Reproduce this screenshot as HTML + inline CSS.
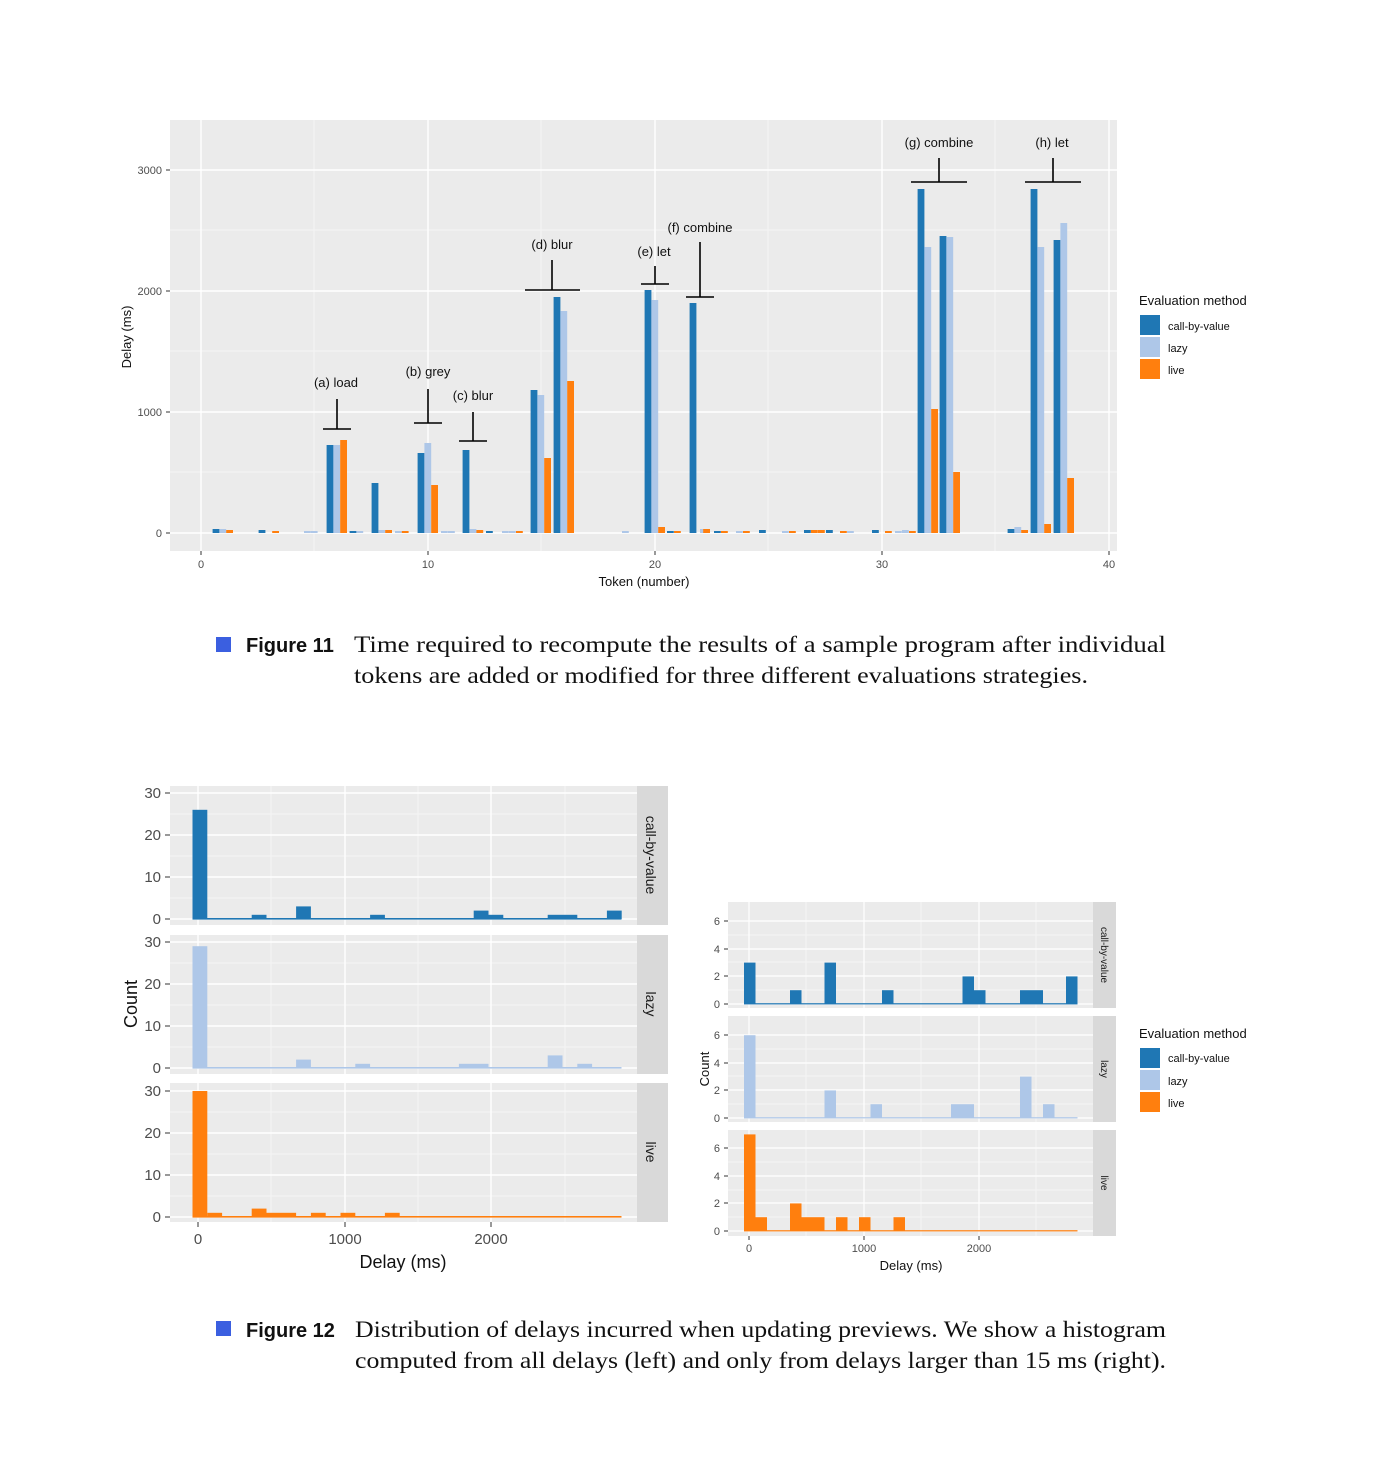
<!DOCTYPE html>
<html><head><meta charset="utf-8"><style>
html,body{margin:0;padding:0;background:#fff;}
svg{display:block;}
.t{font-family:"Liberation Sans",sans-serif;}
.tk{font-family:"Liberation Sans",sans-serif;fill:#4d4d4d;}
.cap{font-family:"Liberation Serif",serif;font-size:23px;fill:#111;}
.fig{font-family:"Liberation Sans",sans-serif;font-weight:bold;font-size:20px;fill:#111;}
</style></head><body>
<svg width="1378" height="1481" viewBox="0 0 1378 1481" xmlns="http://www.w3.org/2000/svg">
<rect width="1378" height="1481" fill="#fff"/>
<!-- ===== Figure 11 ===== -->
<rect x="170" y="120" width="947" height="431" fill="#ebebeb"/>
<g stroke="#f7f7f7" stroke-width="0.8">
<line x1="170" x2="1117" y1="472" y2="472"/><line x1="170" x2="1117" y1="351" y2="351"/><line x1="170" x2="1117" y1="230" y2="230"/>
<line x1="314" x2="314" y1="120" y2="551"/><line x1="541" x2="541" y1="120" y2="551"/><line x1="768" x2="768" y1="120" y2="551"/><line x1="995" x2="995" y1="120" y2="551"/>
</g>
<g stroke="#fff" stroke-width="1.4">
<line x1="170" x2="1117" y1="533" y2="533"/><line x1="170" x2="1117" y1="412" y2="412"/><line x1="170" x2="1117" y1="291" y2="291"/><line x1="170" x2="1117" y1="170" y2="170"/>
<line x1="201" x2="201" y1="120" y2="551"/><line x1="428" x2="428" y1="120" y2="551"/><line x1="655" x2="655" y1="120" y2="551"/><line x1="882" x2="882" y1="120" y2="551"/><line x1="1109" x2="1109" y1="120" y2="551"/>
</g>
<g stroke="#333" stroke-width="1">
<line x1="166" x2="170" y1="533" y2="533"/><line x1="166" x2="170" y1="412" y2="412"/><line x1="166" x2="170" y1="291" y2="291"/><line x1="166" x2="170" y1="170" y2="170"/>
<line x1="201" x2="201" y1="551" y2="555"/><line x1="428" x2="428" y1="551" y2="555"/><line x1="655" x2="655" y1="551" y2="555"/><line x1="882" x2="882" y1="551" y2="555"/><line x1="1109" x2="1109" y1="551" y2="555"/>
</g>
<g class="tk" font-size="11" text-anchor="end">
<text x="162" y="537">0</text><text x="162" y="416">1000</text><text x="162" y="295">2000</text><text x="162" y="174">3000</text>
</g>
<g class="tk" font-size="11" text-anchor="middle">
<text x="201" y="568">0</text><text x="428" y="568">10</text><text x="655" y="568">20</text><text x="882" y="568">30</text><text x="1109" y="568">40</text>
</g>
<text class="t" x="644" y="586" font-size="13" text-anchor="middle" fill="#111">Token (number)</text>
<text class="t" transform="translate(131,337) rotate(-90)" font-size="13" text-anchor="middle" fill="#111">Delay (ms)</text>
<!-- small stubs -->
<g>
<rect x="212.6" y="529" width="6.8" height="4" fill="#1f77b4"/><rect x="219.4" y="529" width="6.8" height="4" fill="#aec7e8"/><rect x="226.2" y="530" width="6.8" height="3" fill="#ff7f0e"/>
<rect x="258.6" y="530" width="6.8" height="3" fill="#1f77b4"/><rect x="272.2" y="531" width="6.8" height="2" fill="#ff7f0e"/>
<rect x="304" y="531" width="6.8" height="2" fill="#aec7e8"/><rect x="310.8" y="531" width="6.8" height="2" fill="#aec7e8"/>
<rect x="349.6" y="531" width="6.8" height="2" fill="#1f77b4"/><rect x="356.4" y="531" width="6.8" height="2" fill="#aec7e8"/>
<rect x="378.4" y="530" width="6.8" height="3" fill="#aec7e8"/><rect x="385.2" y="530" width="6.8" height="3" fill="#ff7f0e"/>
<rect x="395" y="531" width="6.8" height="2" fill="#aec7e8"/><rect x="401.8" y="531" width="6.8" height="2" fill="#ff7f0e"/>
<rect x="441" y="531" width="6.8" height="2" fill="#aec7e8"/><rect x="448" y="531" width="6.8" height="2" fill="#aec7e8"/>
<rect x="469.6" y="529" width="6.8" height="4" fill="#aec7e8"/><rect x="476.4" y="530" width="6.8" height="3" fill="#ff7f0e"/><rect x="486" y="531" width="6.8" height="2" fill="#1f77b4"/>
<rect x="502" y="531" width="6.8" height="2" fill="#aec7e8"/><rect x="509" y="531" width="6.8" height="2" fill="#aec7e8"/><rect x="516" y="531" width="6.8" height="2" fill="#ff7f0e"/>
<rect x="622" y="531" width="6.8" height="2" fill="#aec7e8"/>
<rect x="667" y="531" width="6.8" height="2" fill="#1f77b4"/><rect x="674" y="531" width="6.8" height="2" fill="#ff7f0e"/>
<rect x="700" y="529" width="6.8" height="4" fill="#aec7e8"/>
<rect x="714" y="531" width="6.8" height="2" fill="#1f77b4"/><rect x="721" y="531" width="6.8" height="2" fill="#ff7f0e"/><rect x="736" y="531" width="6.8" height="2" fill="#aec7e8"/><rect x="743" y="531" width="6.8" height="2" fill="#ff7f0e"/>
<rect x="759" y="530" width="6.8" height="3" fill="#1f77b4"/><rect x="782" y="531" width="6.8" height="2" fill="#aec7e8"/><rect x="789" y="531" width="6.8" height="2" fill="#ff7f0e"/>
<rect x="804" y="530" width="6.8" height="3" fill="#1f77b4"/><rect x="811" y="530" width="6.8" height="3" fill="#ff7f0e"/><rect x="818" y="530" width="6.8" height="3" fill="#ff7f0e"/><rect x="826" y="530" width="6.8" height="3" fill="#1f77b4"/>
<rect x="840" y="531" width="6.8" height="2" fill="#ff7f0e"/><rect x="847" y="531" width="6.8" height="2" fill="#aec7e8"/>
<rect x="872" y="530" width="6.8" height="3" fill="#1f77b4"/><rect x="885" y="531" width="6.8" height="2" fill="#ff7f0e"/><rect x="895" y="531" width="6.8" height="2" fill="#aec7e8"/><rect x="902" y="530" width="6.8" height="3" fill="#aec7e8"/><rect x="909" y="531" width="6.8" height="2" fill="#ff7f0e"/>
<rect x="1007.6" y="529" width="6.8" height="4" fill="#1f77b4"/><rect x="1014.4" y="527" width="6.8" height="6" fill="#aec7e8"/><rect x="1021.2" y="530" width="6.8" height="3" fill="#ff7f0e"/>
</g>
<!-- main bars -->
<g>
<rect x="326.6" y="445" width="6.8" height="88" fill="#1f77b4"/><rect x="333.4" y="445" width="6.8" height="88" fill="#aec7e8"/><rect x="340.2" y="440" width="6.8" height="93" fill="#ff7f0e"/>
<rect x="371.6" y="483" width="6.8" height="50" fill="#1f77b4"/>
<rect x="417.6" y="453" width="6.8" height="80" fill="#1f77b4"/><rect x="424.4" y="443" width="6.8" height="90" fill="#aec7e8"/><rect x="431.2" y="485" width="6.8" height="48" fill="#ff7f0e"/>
<rect x="462.6" y="450" width="6.8" height="83" fill="#1f77b4"/>
<rect x="530.6" y="390" width="6.8" height="143" fill="#1f77b4"/><rect x="537.4" y="395" width="6.8" height="138" fill="#aec7e8"/><rect x="544.2" y="458" width="6.8" height="75" fill="#ff7f0e"/>
<rect x="553.6" y="297" width="6.8" height="236" fill="#1f77b4"/><rect x="560.4" y="311" width="6.8" height="222" fill="#aec7e8"/><rect x="567.2" y="381" width="6.8" height="152" fill="#ff7f0e"/>
<rect x="644.6" y="290" width="6.8" height="243" fill="#1f77b4"/><rect x="651.4" y="300" width="6.8" height="233" fill="#aec7e8"/><rect x="658.2" y="527" width="6.8" height="6" fill="#ff7f0e"/>
<rect x="689.6" y="303" width="6.8" height="230" fill="#1f77b4"/><rect x="703.2" y="529" width="6.8" height="4" fill="#ff7f0e"/>
<rect x="917.6" y="189" width="6.8" height="344" fill="#1f77b4"/><rect x="924.4" y="247" width="6.8" height="286" fill="#aec7e8"/><rect x="931.2" y="409" width="6.8" height="124" fill="#ff7f0e"/>
<rect x="939.6" y="236" width="6.8" height="297" fill="#1f77b4"/><rect x="946.4" y="237" width="6.8" height="296" fill="#aec7e8"/><rect x="953.2" y="472" width="6.8" height="61" fill="#ff7f0e"/>
<rect x="1030.6" y="189" width="6.8" height="344" fill="#1f77b4"/><rect x="1037.4" y="247" width="6.8" height="286" fill="#aec7e8"/><rect x="1044.2" y="524" width="6.8" height="9" fill="#ff7f0e"/>
<rect x="1053.6" y="240" width="6.8" height="293" fill="#1f77b4"/><rect x="1060.4" y="223" width="6.8" height="310" fill="#aec7e8"/><rect x="1067.2" y="478" width="6.8" height="55" fill="#ff7f0e"/>
</g>
<!-- annotations -->
<g stroke="#000" stroke-width="1.6">
<line x1="323" x2="351" y1="429" y2="429"/><line x1="337" x2="337" y1="399" y2="429"/>
<line x1="414" x2="442" y1="423" y2="423"/><line x1="428" x2="428" y1="389" y2="423"/>
<line x1="459" x2="487" y1="441" y2="441"/><line x1="473" x2="473" y1="412" y2="441"/>
<line x1="525" x2="580" y1="290" y2="290"/><line x1="552" x2="552" y1="260" y2="290"/>
<line x1="641" x2="669" y1="284" y2="284"/><line x1="655" x2="655" y1="266" y2="284"/>
<line x1="686" x2="714" y1="297" y2="297"/><line x1="700" x2="700" y1="242" y2="297"/>
<line x1="911" x2="967" y1="182" y2="182"/><line x1="939" x2="939" y1="158" y2="182"/>
<line x1="1025" x2="1081" y1="182" y2="182"/><line x1="1053" x2="1053" y1="158" y2="182"/>
</g>
<g class="t" font-size="13" fill="#111" text-anchor="middle">
<text x="336" y="387">(a) load</text><text x="428" y="376">(b) grey</text><text x="473" y="400">(c) blur</text>
<text x="552" y="249">(d) blur</text><text x="654" y="256">(e) let</text><text x="700" y="232">(f) combine</text>
<text x="939" y="147">(g) combine</text><text x="1052" y="147">(h) let</text>
</g>
<text class="t" x="1139" y="305" font-size="13" fill="#111">Evaluation method</text>
<rect x="1140" y="315" width="20" height="20" fill="#1f77b4"/><rect x="1140" y="337" width="20" height="20" fill="#aec7e8"/><rect x="1140" y="359" width="20" height="20" fill="#ff7f0e"/>
<g class="t" font-size="11" fill="#111"><text x="1168" y="330">call-by-value</text><text x="1168" y="352">lazy</text><text x="1168" y="374">live</text></g>
<!-- caption 11 -->
<rect x="216" y="637" width="15" height="15" fill="#3b5fe0"/>
<text class="fig" x="246" y="652">Figure 11</text>
<text class="cap" x="354" y="652" textLength="812" lengthAdjust="spacingAndGlyphs">Time required to recompute the results of a sample program after individual</text>
<text class="cap" x="354" y="683" textLength="734" lengthAdjust="spacingAndGlyphs">tokens are added or modified for three different evaluations strategies.</text>

<!-- ===== Figure 12 left ===== -->
<g>
<rect x="170" y="786" width="467" height="139" fill="#ebebeb"/>
<rect x="170" y="935" width="467" height="139" fill="#ebebeb"/>
<rect x="170" y="1083" width="467" height="139" fill="#ebebeb"/>
<rect x="637" y="786" width="31" height="139" fill="#d9d9d9"/>
<rect x="637" y="935" width="31" height="139" fill="#d9d9d9"/>
<rect x="637" y="1083" width="31" height="139" fill="#d9d9d9"/>
</g>
<g stroke="#f7f7f7" stroke-width="0.8">
<line x1="170" x2="637" y1="898" y2="898"/><line x1="170" x2="637" y1="856" y2="856"/><line x1="170" x2="637" y1="814" y2="814"/>
<line x1="170" x2="637" y1="1047" y2="1047"/><line x1="170" x2="637" y1="1005" y2="1005"/><line x1="170" x2="637" y1="963" y2="963"/>
<line x1="170" x2="637" y1="1196" y2="1196"/><line x1="170" x2="637" y1="1154" y2="1154"/><line x1="170" x2="637" y1="1112" y2="1112"/>
<line x1="271" x2="271" y1="786" y2="925"/><line x1="418" x2="418" y1="786" y2="925"/><line x1="565" x2="565" y1="786" y2="925"/>
<line x1="271" x2="271" y1="935" y2="1074"/><line x1="418" x2="418" y1="935" y2="1074"/><line x1="565" x2="565" y1="935" y2="1074"/>
<line x1="271" x2="271" y1="1083" y2="1222"/><line x1="418" x2="418" y1="1083" y2="1222"/><line x1="565" x2="565" y1="1083" y2="1222"/>
</g>
<g stroke="#fff" stroke-width="1.4">
<line x1="170" x2="637" y1="919" y2="919"/><line x1="170" x2="637" y1="877" y2="877"/><line x1="170" x2="637" y1="835" y2="835"/><line x1="170" x2="637" y1="793" y2="793"/>
<line x1="170" x2="637" y1="1068" y2="1068"/><line x1="170" x2="637" y1="1026" y2="1026"/><line x1="170" x2="637" y1="984" y2="984"/><line x1="170" x2="637" y1="942" y2="942"/>
<line x1="170" x2="637" y1="1217" y2="1217"/><line x1="170" x2="637" y1="1175" y2="1175"/><line x1="170" x2="637" y1="1133" y2="1133"/><line x1="170" x2="637" y1="1091" y2="1091"/>
<line x1="198" x2="198" y1="786" y2="925"/><line x1="345" x2="345" y1="786" y2="925"/><line x1="491" x2="491" y1="786" y2="925"/>
<line x1="198" x2="198" y1="935" y2="1074"/><line x1="345" x2="345" y1="935" y2="1074"/><line x1="491" x2="491" y1="935" y2="1074"/>
<line x1="198" x2="198" y1="1083" y2="1222"/><line x1="345" x2="345" y1="1083" y2="1222"/><line x1="491" x2="491" y1="1083" y2="1222"/>
</g>
<g fill="#1f77b4">
<rect x="192.5" y="809.8" width="14.8" height="109.2"/><rect x="251.7" y="914.8" width="14.8" height="4.2"/><rect x="296.1" y="906.4" width="14.8" height="12.6"/><rect x="370.1" y="914.8" width="14.8" height="4.2"/><rect x="473.7" y="910.6" width="14.8" height="8.4"/><rect x="488.5" y="914.8" width="14.8" height="4.2"/><rect x="547.7" y="914.8" width="29.6" height="4.2"/><rect x="606.9" y="910.6" width="14.8" height="8.4"/>
<rect x="192.5" y="918" width="429" height="1.6"/>
</g>
<g fill="#aec7e8">
<rect x="192.5" y="946.2" width="14.8" height="121.8"/><rect x="296.1" y="1059.6" width="14.8" height="8.4"/><rect x="355.3" y="1063.8" width="14.8" height="4.2"/><rect x="458.9" y="1063.8" width="29.6" height="4.2"/><rect x="547.7" y="1055.4" width="14.8" height="12.6"/><rect x="577.3" y="1063.8" width="14.8" height="4.2"/>
<rect x="192.5" y="1067" width="429" height="1.6"/>
</g>
<g fill="#ff7f0e">
<rect x="192.5" y="1091" width="14.8" height="126"/><rect x="207.3" y="1212.8" width="14.8" height="4.2"/><rect x="251.7" y="1208.6" width="14.8" height="8.4"/><rect x="266.5" y="1212.8" width="29.6" height="4.2"/><rect x="310.9" y="1212.8" width="14.8" height="4.2"/><rect x="340.5" y="1212.8" width="14.8" height="4.2"/><rect x="384.9" y="1212.8" width="14.8" height="4.2"/>
<rect x="192.5" y="1216" width="429" height="1.6"/>
</g>
<g stroke="#333" stroke-width="1">
<line x1="165" x2="170" y1="919" y2="919"/><line x1="165" x2="170" y1="877" y2="877"/><line x1="165" x2="170" y1="835" y2="835"/><line x1="165" x2="170" y1="793" y2="793"/>
<line x1="165" x2="170" y1="1068" y2="1068"/><line x1="165" x2="170" y1="1026" y2="1026"/><line x1="165" x2="170" y1="984" y2="984"/><line x1="165" x2="170" y1="942" y2="942"/>
<line x1="165" x2="170" y1="1217" y2="1217"/><line x1="165" x2="170" y1="1175" y2="1175"/><line x1="165" x2="170" y1="1133" y2="1133"/><line x1="165" x2="170" y1="1091" y2="1091"/>
<line x1="198" x2="198" y1="1222" y2="1227"/><line x1="345" x2="345" y1="1222" y2="1227"/><line x1="491" x2="491" y1="1222" y2="1227"/>
</g>
<g class="tk" font-size="15" text-anchor="end">
<text x="161" y="924">0</text><text x="161" y="882">10</text><text x="161" y="840">20</text><text x="161" y="798">30</text>
<text x="161" y="1073">0</text><text x="161" y="1031">10</text><text x="161" y="989">20</text><text x="161" y="947">30</text>
<text x="161" y="1222">0</text><text x="161" y="1180">10</text><text x="161" y="1138">20</text><text x="161" y="1096">30</text>
</g>
<g class="tk" font-size="15" text-anchor="middle">
<text x="198" y="1244">0</text><text x="345" y="1244">1000</text><text x="491" y="1244">2000</text>
</g>
<text class="t" x="403" y="1268" font-size="18" text-anchor="middle" fill="#111">Delay (ms)</text>
<text class="t" transform="translate(137,1004) rotate(-90)" font-size="18" text-anchor="middle" fill="#111">Count</text>
<g class="t" font-size="14" fill="#1a1a1a" text-anchor="middle">
<text transform="translate(646,855) rotate(90)">call-by-value</text>
<text transform="translate(646,1004) rotate(90)">lazy</text>
<text transform="translate(646,1152) rotate(90)">live</text>
</g>

<!-- ===== Figure 12 right ===== -->
<g>
<rect x="728" y="902" width="365" height="106" fill="#ebebeb"/>
<rect x="728" y="1016" width="365" height="106" fill="#ebebeb"/>
<rect x="728" y="1130" width="365" height="106" fill="#ebebeb"/>
<rect x="1093" y="902" width="23" height="106" fill="#d9d9d9"/>
<rect x="1093" y="1016" width="23" height="106" fill="#d9d9d9"/>
<rect x="1093" y="1130" width="23" height="106" fill="#d9d9d9"/>
</g>
<g stroke="#f7f7f7" stroke-width="0.8">
<line x1="728" x2="1093" y1="990" y2="990"/><line x1="728" x2="1093" y1="962" y2="962"/><line x1="728" x2="1093" y1="935" y2="935"/>
<line x1="728" x2="1093" y1="1104" y2="1104"/><line x1="728" x2="1093" y1="1076" y2="1076"/><line x1="728" x2="1093" y1="1049" y2="1049"/>
<line x1="728" x2="1093" y1="1217" y2="1217"/><line x1="728" x2="1093" y1="1190" y2="1190"/><line x1="728" x2="1093" y1="1162" y2="1162"/>
<line x1="806" x2="806" y1="902" y2="1008"/><line x1="921" x2="921" y1="902" y2="1008"/><line x1="1036" x2="1036" y1="902" y2="1008"/>
<line x1="806" x2="806" y1="1016" y2="1122"/><line x1="921" x2="921" y1="1016" y2="1122"/><line x1="1036" x2="1036" y1="1016" y2="1122"/>
<line x1="806" x2="806" y1="1130" y2="1236"/><line x1="921" x2="921" y1="1130" y2="1236"/><line x1="1036" x2="1036" y1="1130" y2="1236"/>
</g>
<g stroke="#fff" stroke-width="1.2">
<line x1="728" x2="1093" y1="1004" y2="1004"/><line x1="728" x2="1093" y1="976" y2="976"/><line x1="728" x2="1093" y1="949" y2="949"/><line x1="728" x2="1093" y1="921" y2="921"/>
<line x1="728" x2="1093" y1="1118" y2="1118"/><line x1="728" x2="1093" y1="1090" y2="1090"/><line x1="728" x2="1093" y1="1063" y2="1063"/><line x1="728" x2="1093" y1="1035" y2="1035"/>
<line x1="728" x2="1093" y1="1231" y2="1231"/><line x1="728" x2="1093" y1="1203" y2="1203"/><line x1="728" x2="1093" y1="1176" y2="1176"/><line x1="728" x2="1093" y1="1148" y2="1148"/>
<line x1="749" x2="749" y1="902" y2="1008"/><line x1="864" x2="864" y1="902" y2="1008"/><line x1="979" x2="979" y1="902" y2="1008"/>
<line x1="749" x2="749" y1="1016" y2="1122"/><line x1="864" x2="864" y1="1016" y2="1122"/><line x1="979" x2="979" y1="1016" y2="1122"/>
<line x1="749" x2="749" y1="1130" y2="1236"/><line x1="864" x2="864" y1="1130" y2="1236"/><line x1="979" x2="979" y1="1130" y2="1236"/>
</g>
<g fill="#1f77b4">
<rect x="744" y="962.6" width="11.5" height="41.4"/><rect x="790" y="990.2" width="11.5" height="13.8"/><rect x="824.5" y="962.6" width="11.5" height="41.4"/><rect x="882" y="990.2" width="11.5" height="13.8"/><rect x="962.5" y="976.4" width="11.5" height="27.6"/><rect x="974" y="990.2" width="11.5" height="13.8"/><rect x="1020" y="990.2" width="23" height="13.8"/><rect x="1066" y="976.4" width="11.5" height="27.6"/>
<rect x="744" y="1003.2" width="333.5" height="1.2"/>
</g>
<g fill="#aec7e8">
<rect x="744" y="1035.2" width="11.5" height="82.8"/><rect x="824.5" y="1090.4" width="11.5" height="27.6"/><rect x="870.5" y="1104.2" width="11.5" height="13.8"/><rect x="951" y="1104.2" width="23" height="13.8"/><rect x="1020" y="1076.6" width="11.5" height="41.4"/><rect x="1043" y="1104.2" width="11.5" height="13.8"/>
<rect x="744" y="1117.2" width="333.5" height="1.2"/>
</g>
<g fill="#ff7f0e">
<rect x="744" y="1134.4" width="11.5" height="96.6"/><rect x="755.5" y="1217.2" width="11.5" height="13.8"/><rect x="790" y="1203.4" width="11.5" height="27.6"/><rect x="801.5" y="1217.2" width="23" height="13.8"/><rect x="836" y="1217.2" width="11.5" height="13.8"/><rect x="859" y="1217.2" width="11.5" height="13.8"/><rect x="893.5" y="1217.2" width="11.5" height="13.8"/>
<rect x="744" y="1230.2" width="333.5" height="1.2"/>
</g>
<g stroke="#333" stroke-width="1">
<line x1="724" x2="728" y1="1004" y2="1004"/><line x1="724" x2="728" y1="976" y2="976"/><line x1="724" x2="728" y1="949" y2="949"/><line x1="724" x2="728" y1="921" y2="921"/>
<line x1="724" x2="728" y1="1118" y2="1118"/><line x1="724" x2="728" y1="1090" y2="1090"/><line x1="724" x2="728" y1="1063" y2="1063"/><line x1="724" x2="728" y1="1035" y2="1035"/>
<line x1="724" x2="728" y1="1231" y2="1231"/><line x1="724" x2="728" y1="1203" y2="1203"/><line x1="724" x2="728" y1="1176" y2="1176"/><line x1="724" x2="728" y1="1148" y2="1148"/>
<line x1="749" x2="749" y1="1236" y2="1240"/><line x1="864" x2="864" y1="1236" y2="1240"/><line x1="979" x2="979" y1="1236" y2="1240"/>
</g>
<g class="tk" font-size="11" text-anchor="end">
<text x="720" y="1008">0</text><text x="720" y="980">2</text><text x="720" y="953">4</text><text x="720" y="925">6</text>
<text x="720" y="1122">0</text><text x="720" y="1094">2</text><text x="720" y="1067">4</text><text x="720" y="1039">6</text>
<text x="720" y="1235">0</text><text x="720" y="1207">2</text><text x="720" y="1180">4</text><text x="720" y="1152">6</text>
</g>
<g class="tk" font-size="11" text-anchor="middle">
<text x="749" y="1252">0</text><text x="864" y="1252">1000</text><text x="979" y="1252">2000</text>
</g>
<text class="t" x="911" y="1270" font-size="13" text-anchor="middle" fill="#111">Delay (ms)</text>
<text class="t" transform="translate(709,1069) rotate(-90)" font-size="13" text-anchor="middle" fill="#111">Count</text>
<g class="t" font-size="10" fill="#1a1a1a" text-anchor="middle">
<text transform="translate(1101,955) rotate(90)">call-by-value</text>
<text transform="translate(1101,1069) rotate(90)">lazy</text>
<text transform="translate(1101,1183) rotate(90)">live</text>
</g>
<text class="t" x="1139" y="1038" font-size="13" fill="#111">Evaluation method</text>
<rect x="1140" y="1048" width="20" height="20" fill="#1f77b4"/><rect x="1140" y="1070" width="20" height="20" fill="#aec7e8"/><rect x="1140" y="1092" width="20" height="20" fill="#ff7f0e"/>
<g class="t" font-size="11" fill="#111"><text x="1168" y="1062">call-by-value</text><text x="1168" y="1085">lazy</text><text x="1168" y="1107">live</text></g>
<!-- caption 12 -->
<rect x="216" y="1321" width="15" height="15" fill="#3b5fe0"/>
<text class="fig" x="246" y="1337">Figure 12</text>
<text class="cap" x="355" y="1337" textLength="811" lengthAdjust="spacingAndGlyphs">Distribution of delays incurred when updating previews. We show a histogram</text>
<text class="cap" x="355" y="1368" textLength="811" lengthAdjust="spacingAndGlyphs">computed from all delays (left) and only from delays larger than 15 ms (right).</text>
</svg>
</body></html>
